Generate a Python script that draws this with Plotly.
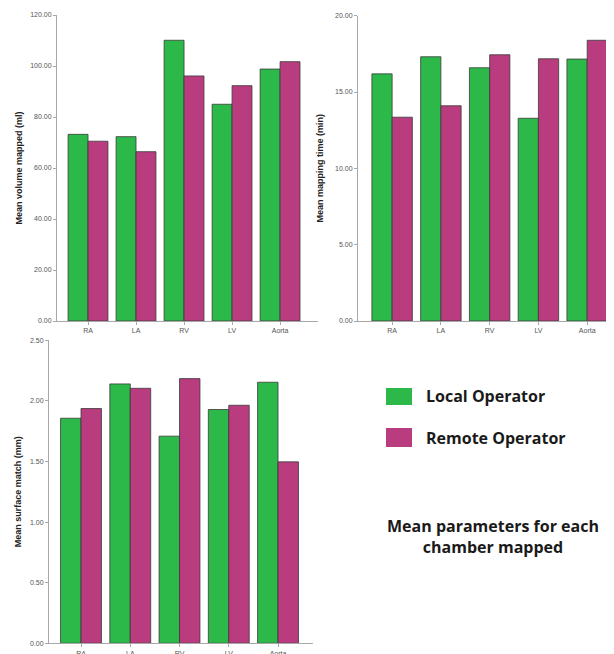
import plotly.graph_objects as go

# The page body has an 8px default margin, so the figure is drawn 8px in from the window.
OFF = 8
W, H = 614 - OFF, 654 - OFF

chambers = ["RA", "LA", "RV", "LV", "Aorta"]

volume_local = [73.2, 72.3, 110.1, 85.0, 98.8]
volume_remote = [70.5, 66.4, 96.1, 92.3, 101.7]

time_local = [16.19, 17.31, 16.59, 13.28, 17.16]
time_remote = [13.35, 14.10, 17.44, 17.18, 18.39]

surface_local = [1.857, 2.140, 1.709, 1.929, 2.154]
surface_remote = [1.937, 2.104, 2.184, 1.964, 1.497]

GREEN = "#2db84a"
PINK = "#b83c7e"
EDGE = "#3a3a3a"
AXIS = "#a8a8a8"

def px_x(p):
    return min(1.0, (p - OFF) / W)

def px_y(p):
    return 1 - (p - OFF) / H

fig = go.Figure()

panels = [
    ("x", "y", volume_local, volume_remote),
    ("x2", "y2", time_local, time_remote),
    ("x3", "y3", surface_local, surface_remote),
]
for xa, ya, loc, rem in panels:
    fig.add_trace(go.Bar(x=chambers, y=loc, name="Local Operator", xaxis=xa, yaxis=ya,
                         marker=dict(color=GREEN, line=dict(color=EDGE, width=0.8)),
                         showlegend=False))
    fig.add_trace(go.Bar(x=chambers, y=rem, name="Remote Operator", xaxis=xa, yaxis=ya,
                         marker=dict(color=PINK, line=dict(color=EDGE, width=0.8)),
                         showlegend=False))

tickfont = dict(family="Liberation Sans, Arial", size=7, color="#555555")
titlefont = dict(family="Liberation Sans, Arial", size=9, color="#222222", weight="bold")

def xaxis_cfg(dom, rng, anchor):
    return dict(domain=dom, range=rng, anchor=anchor, showline=True, linecolor=AXIS, linewidth=1,
                ticks="outside", ticklen=3, tickcolor=AXIS, tickfont=tickfont, automargin=False,
                showgrid=False, zeroline=False, fixedrange=True)

def yaxis_cfg(dom, rng, dtick, title, anchor, standoff):
    return dict(domain=dom, range=rng, anchor=anchor, showline=True, linecolor=AXIS, linewidth=1,
                ticks="outside", ticklen=3, tickcolor=AXIS, tickfont=tickfont,
                tickformat=".2f", dtick=dtick, tick0=0, automargin=False,
                title=dict(text=title, font=titlefont, standoff=standoff),
                showgrid=False, zeroline=False, fixedrange=True)

fig.update_layout(
    width=W, height=H,
    margin=dict(l=0, r=0, t=0, b=0, autoexpand=False),
    paper_bgcolor="white", plot_bgcolor="white",
    barmode="group", bargap=0.17, bargroupgap=0,
    xaxis=xaxis_cfg([px_x(57), px_x(318)], [-0.646, 4.79], "y"),
    yaxis=yaxis_cfg([px_y(321), px_y(15)], [0, 120], 20, "Mean volume mapped (ml)", "x", 6),
    xaxis2=xaxis_cfg([px_x(358), 1.0], [-0.70, 4.55], "y2"),
    yaxis2=yaxis_cfg([px_y(321), px_y(15.7)], [0, 20], 5, "Mean mapping time (min)", "x2", 9),
    xaxis3=xaxis_cfg([px_x(49), px_x(313)], [-0.65, 4.71], "y3"),
    yaxis3=yaxis_cfg([px_y(643.3), px_y(340.3)], [0, 2.5], 0.5, "Mean surface match (mm)", "x3", 6),
)

# Legend drawn as swatches and labels
legend_items = [("Local Operator", GREEN, 388, 405), ("Remote Operator", PINK, 428, 447)]
legfont = dict(family="Open Sans", size=16, color="#1a1a1a", weight="bold")
for label, col, y0, y1 in legend_items:
    fig.add_shape(type="rect", xref="paper", yref="paper",
                  x0=px_x(386), x1=px_x(412), y0=px_y(y1), y1=px_y(y0),
                  fillcolor=col, line=dict(width=0))
    fig.add_annotation(xref="paper", yref="paper", x=px_x(424), y=px_y((y0 + y1) / 2),
                       text=label, showarrow=False, xanchor="left", yanchor="middle",
                       font=legfont)

fig.add_annotation(xref="paper", yref="paper", x=px_x(493), y=px_y(536),
                   text="Mean parameters for each<br>chamber mapped", showarrow=False,
                   xanchor="center", yanchor="middle", align="center",
                   font=dict(family="Open Sans", size=16, color="#1a1a1a", weight="bold"))

fig.write_html("out.html")
